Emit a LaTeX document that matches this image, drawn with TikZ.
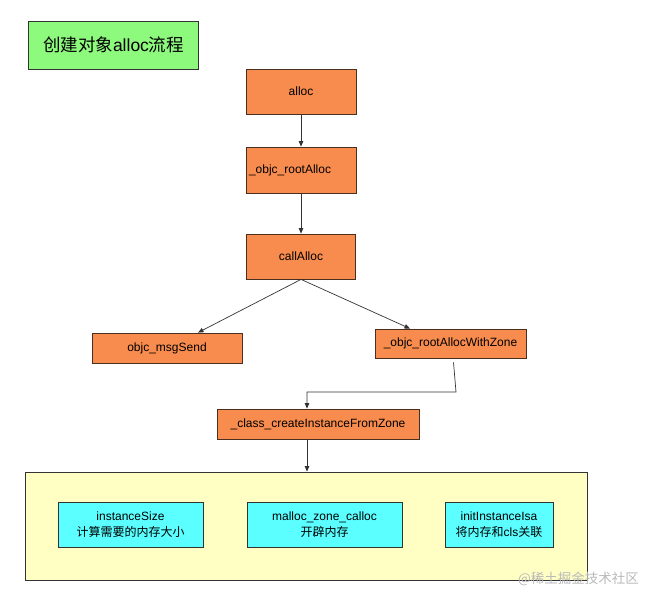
\documentclass[tikz,border=0pt]{standalone}
\usepackage{fontspec}
\setmainfont{Liberation Sans}
\newfontfamily\cjk{Noto Sans CJK SC}
\usetikzlibrary{arrows.meta}
\definecolor{orangefill}{HTML}{F88C4E}
\definecolor{orangeline}{HTML}{4A2E1E}
\definecolor{greenfill}{HTML}{8DFA7E}
\definecolor{cyanfill}{HTML}{5CFFFF}
\definecolor{yellowfill}{HTML}{FFFFC4}
\definecolor{edgeline}{HTML}{333333}
\tikzset{
  box/.style={draw=orangeline, fill=orangefill, line width=0.8pt, inner sep=0pt,
    font=\fontsize{12}{14}\selectfont, align=center},
  titlebox/.style={draw=edgeline, fill=greenfill, line width=0.8pt, inner sep=0pt,
    minimum width=170pt, minimum height=48pt, font=\fontsize{17.5}{20}\selectfont},
  cyanbox/.style={draw=edgeline, fill=cyanfill, line width=0.8pt, inner sep=0pt,
    minimum height=45pt, align=center, font=\fontsize{12}{15.5}\selectfont},
  groupbox/.style={draw=edgeline, fill=yellowfill, line width=0.8pt, inner sep=0pt,
    minimum width=562pt, minimum height=108pt},
  conn/.style={draw=edgeline, line width=0.7pt, -{Triangle[length=5.5pt,width=4.5pt]}},
  wmark/.style={text=gray!55, font=\cjk\fontsize{13.5}{15}\selectfont, inner sep=0pt}
}
\begin{document}
\begin{tikzpicture}[x=1pt,y=-1pt]
\useasboundingbox (0,0) rectangle (658,604);
\node[titlebox] (t) at (113.5,45) {{\cjk 创建对象}alloc{\cjk 流程}};
\node[box, minimum width=110pt, minimum height=45pt] (a) at (301,91.5) {alloc};
\node[box, minimum height=46pt, text width=104pt, inner xsep=3pt, align=left] (ra) at (301,170) {\_objc\_rootAlloc};
\node[box, minimum width=109pt, minimum height=45pt] (ca) at (301,256.5) {callAlloc};
\node[box, minimum width=150pt, minimum height=30pt] (ms) at (167,348) {objc\_msgSend};
\node[box, minimum width=151pt, minimum height=29pt] (rz) at (450.5,343.5) {\_objc\_rootAllocWithZone};
\node[box, minimum width=202pt, minimum height=30pt] (ci) at (318,424) {\_class\_createInstanceFromZone};
\node[groupbox] (yb) at (306,526) {};
\node[cyanbox, minimum width=145pt] (is) at (130.5,524.5) {instanceSize\\{\cjk 计算需要的内存大小}};
\node[cyanbox, minimum width=155pt] (mz) at (324.5,524.5) {malloc\_zone\_calloc\\{\cjk 开辟内存}};
\node[cyanbox, minimum width=108pt] (ii) at (499,524.5) {initInstanceIsa\\{\cjk 将内存和}cls{\cjk 关联}};
\node[wmark] (wm) at (578.5,578.5) {@稀土掘金技术社区};
\coordinate (k1) at (456,392);
\coordinate (k2) at (307,392);
\draw[conn] (a.south) -- (ra.north);
\draw[conn] (ra.south) -- (ca.north);
\draw[conn] (ca.south) -- ([xshift=31pt]ms.north);
\draw[conn] (ca.south) -- ([xshift=-40.5pt]rz.north);
\draw[conn] ([xshift=3pt,yshift=-4pt]rz.south) -- (k1) -- (k2) -- (k2 |- ci.north);
\draw[conn] ([xshift=-11pt]ci.south) -- ([xshift=-11pt]ci.south |- yb.north);
\end{tikzpicture}
\end{document}
